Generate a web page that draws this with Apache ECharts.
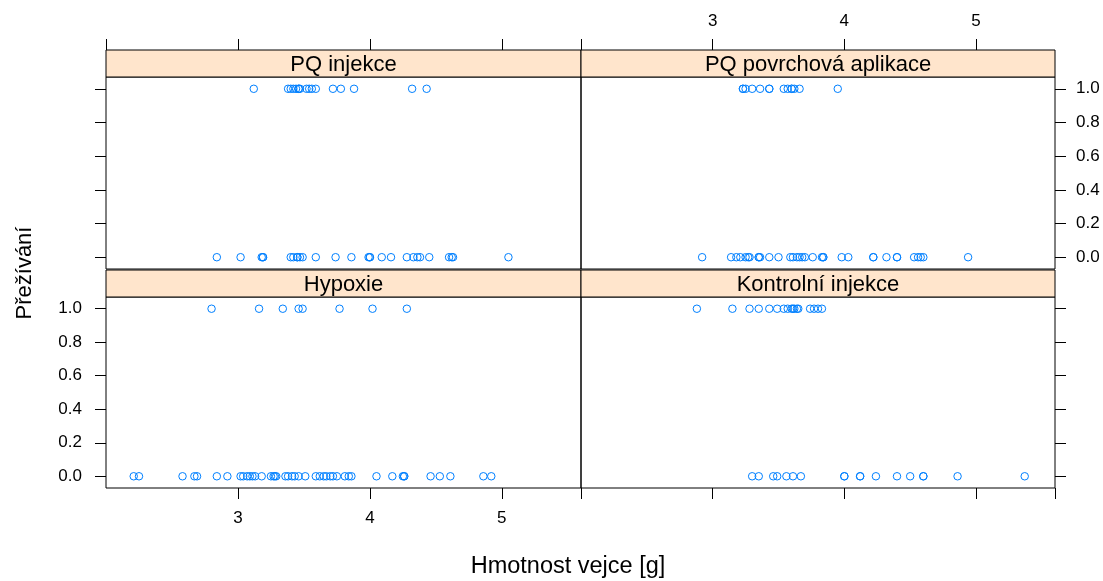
<!DOCTYPE html>
<html>
<head>
<meta charset="utf-8">
<script src="https://cdn.jsdelivr.net/npm/echarts@6/dist/echarts.min.js"></script>
<style>
html,body{margin:0;padding:0;background:#fff;}
#chart{width:1103px;height:581px;}
</style>
</head>
<body>
<div id="chart"></div>
<script>
// ---- data (egg weight [g] per panel, split by survival 1 / 0) ----
const panels = ["PQ injekce", "PQ povrchová aplikace", "Hypoxie", "Kontrolní injekce"];

const pqInjSurv = [3.12, 3.38, 3.40, 3.42, 3.44, 3.46, 3.46, 3.47, 3.52, 3.54, 3.56, 3.59, 3.72, 3.78, 3.88, 4.32, 4.43];
const pqInjDead = [2.84, 3.02, 3.18, 3.19, 3.19, 3.40, 3.42, 3.45, 3.45, 3.47, 3.49, 3.59, 3.74, 3.86, 3.99, 4.00, 4.00, 4.09, 4.16, 4.28, 4.33, 4.36, 4.38, 4.45, 4.60, 4.62, 4.63, 5.05];

const pqPovSurv = [3.23, 3.23, 3.25, 3.30, 3.36, 3.43, 3.43, 3.54, 3.57, 3.60, 3.60, 3.62, 3.66, 3.95];
const pqPovDead = [2.92, 3.14, 3.18, 3.21, 3.25, 3.27, 3.28, 3.35, 3.35, 3.36, 3.43, 3.50, 3.59, 3.61, 3.64, 3.66, 3.68, 3.70, 3.76, 3.83, 3.84, 3.84, 3.98, 4.03, 4.22, 4.22, 4.32, 4.40, 4.40, 4.53, 4.56, 4.58, 4.60, 4.94];

const hypSurv = [2.80, 3.16, 3.34, 3.46, 3.49, 3.77, 4.02, 4.28];
const hypDead = [2.21, 2.25, 2.58, 2.67, 2.69, 2.84, 2.92, 3.02, 3.04, 3.07, 3.09, 3.11, 3.13, 3.18, 3.25, 3.27, 3.28, 3.29, 3.36, 3.38, 3.41, 3.43, 3.46, 3.51, 3.59, 3.62, 3.65, 3.67, 3.70, 3.72, 3.75, 3.81, 3.84, 3.86, 4.05, 4.17, 4.25, 4.26, 4.26, 4.46, 4.53, 4.61, 4.86, 4.92];

const kontSurv = [2.88, 3.15, 3.28, 3.35, 3.43, 3.49, 3.54, 3.57, 3.60, 3.61, 3.62, 3.64, 3.65, 3.74, 3.77, 3.80, 3.83];
const kontDead = [3.30, 3.35, 3.46, 3.49, 3.56, 3.61, 3.67, 4.00, 4.00, 4.12, 4.12, 4.24, 4.40, 4.50, 4.60, 4.60, 4.86, 5.37];

const xTicks = [3, 4, 5];
const yTicks = [0, 0.2, 0.4, 0.6, 0.8, 1.0];
const xMin = 2.0, xMax = 5.6, yMin = -0.07, yMax = 1.07;

// ---- layout ----
const L = 106, M = 581, R = 1055;
const stripH = 27;
const rows = [{top: 77, height: 192}, {top: 297, height: 191}];
const cells = [
  {left: L, width: M - L, row: 0},
  {left: M, width: R - M, row: 0},
  {left: L, width: M - L, row: 1},
  {left: M, width: R - M, row: 1}
];
const FONT = '"Liberation Sans", Arial, sans-serif';
const tickLen = 11;

const grids = cells.map(c => ({
  left: c.left, top: rows[c.row].top, width: c.width, height: rows[c.row].height,
  show: true, borderColor: '#000', borderWidth: 1, backgroundColor: 'transparent', containLabel: false
}));

function xAxisFor(i) {
  const c = cells[i];
  const showLab = (i === 1 || i === 2);
  return {
    type: 'value', gridIndex: i, min: xMin, max: xMax, interval: 1,
    position: c.row === 0 ? 'top' : 'bottom',
    offset: c.row === 0 ? stripH : 0,
    axisLine: {show: false, onZero: false},
    splitLine: {show: false},
    axisTick: {show: true, inside: false, length: tickLen, lineStyle: {color: '#000', width: 1}},
    axisLabel: {show: showLab, showMinLabel: false, showMaxLabel: false, margin: c.row === 0 ? 20 : 22,
      color: '#000', fontSize: 17, fontFamily: FONT,
      formatter: v => (xTicks.indexOf(v) >= 0 ? String(v) : '')}
  };
}
function yAxisFor(i) {
  const right = (i === 1 || i === 3);
  const showLab = (i === 1 || i === 2);
  return {
    type: 'value', gridIndex: i, min: yMin, max: yMax,
    position: right ? 'right' : 'left',
    axisLine: {show: false, onZero: false},
    splitLine: {show: false},
    axisTick: {show: true, inside: false, length: tickLen, customValues: yTicks, lineStyle: {color: '#000', width: 1}},
    axisLabel: {show: showLab, customValues: yTicks, margin: right ? 21 : 24, color: '#000', fontSize: 17, fontFamily: FONT, formatter: v => v.toFixed(1)}
  };
}

const groups = [[pqInjSurv, pqInjDead], [pqPovSurv, pqPovDead], [hypSurv, hypDead], [kontSurv, kontDead]];
const series = groups.map((g, i) => ({
  type: 'scatter', xAxisIndex: i, yAxisIndex: i,
  symbol: 'circle', symbolSize: 7.5,
  itemStyle: {color: 'rgba(0,0,0,0)', borderColor: '#0080ff', borderWidth: 1, opacity: 1},
  emphasis: {disabled: true},
  silent: true,
  data: g[0].map(x => [x, 1]).concat(g[1].map(x => [x, 0]))
}));

const graphics = [];
cells.forEach((c, i) => {
  const top = rows[c.row].top - stripH;
  graphics.push({
    type: 'rect', shape: {x: c.left, y: top, width: c.width, height: stripH},
    style: {fill: '#FFE5CC', stroke: '#000', lineWidth: 1}, z: 10
  });
  graphics.push({
    type: 'text', x: c.left + c.width / 2, y: top + stripH / 2 + 1,
    style: {text: panels[i], font: '22px ' + FONT, fill: '#000', align: 'center', verticalAlign: 'middle'}, z: 11
  });
});
graphics.push({
  type: 'text', x: 568, y: 567,
  style: {text: 'Hmotnost vejce [g]', font: '23.5px ' + FONT, fill: '#000', align: 'center', verticalAlign: 'middle'}
});
graphics.push({
  type: 'text', x: 25, y: 273, rotation: Math.PI / 2,
  style: {text: 'Přežívání', font: '22px ' + FONT, fill: '#000', align: 'center', verticalAlign: 'middle'}
});

const chart = echarts.init(document.getElementById('chart'), null, {renderer: 'canvas'});
chart.setOption({
  animation: false,
  backgroundColor: '#fff',
  grid: grids,
  xAxis: [0, 1, 2, 3].map(xAxisFor),
  yAxis: [0, 1, 2, 3].map(yAxisFor),
  series: series,
  graphic: graphics
});
</script>
</body>
</html>
